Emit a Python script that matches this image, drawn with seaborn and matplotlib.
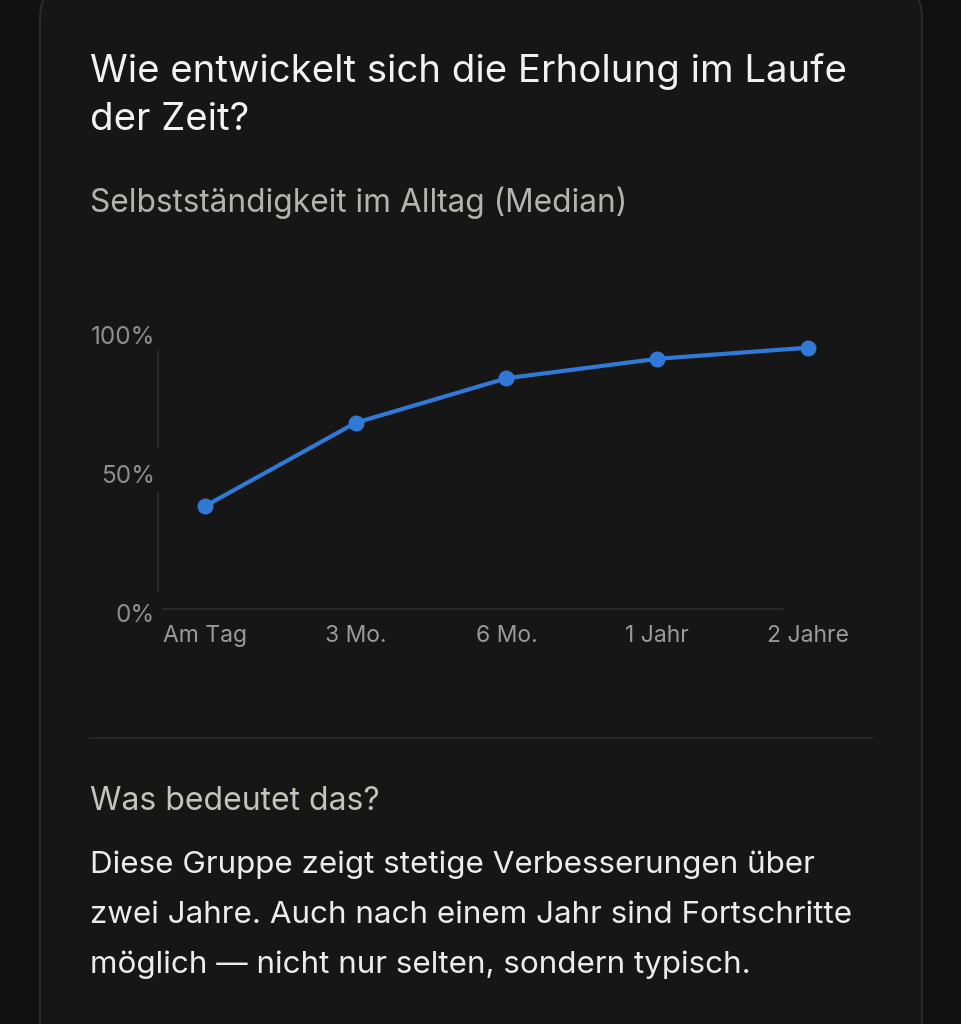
import pandas as pd
import seaborn as sns
import matplotlib.pyplot as plt
import matplotlib.transforms as mtransforms
from matplotlib.patches import FancyBboxPatch

# Data
zeitpunkte = ["Am Tag", "3 Mo.", "6 Mo.", "1 Jahr", "2 Jahre"]
median_pct = [37, 67, 83, 90, 94]
y_ticks = [0, 50, 100]
y_tick_labels = ["0%", "50%", "100%"]

title_lines = ["Wie entwickelt sich die Erholung im Laufe", "der Zeit?"]
subtitle = "Selbstständigkeit im Alltag (Median)"
note_head = "Was bedeutet das?"
note_lines = ["Diese Gruppe zeigt stetige Verbesserungen über",
              "zwei Jahre. Auch nach einem Jahr sind Fortschritte",
              "möglich — nicht nur selten, sondern typisch."]

BG = "#111111"
CARD = "#161616"
BORDER = "#2a2a2a"
BLUE = "#3079d6"

sns.set_theme(style="dark")
plt.rcParams["font.family"] = ["Inter", "DejaVu Sans"]

W, H = 962, 1024
fig = plt.figure(figsize=(W / 100, H / 100), dpi=100)
fig.patch.set_facecolor(BG)

# card behind everything (top and bottom run past the frame)
card = FancyBboxPatch((40 / W, -40 / H), 882 / W, 1080 / H,
                      boxstyle="round,pad=0,rounding_size=0.035",
                      transform=fig.transFigure, facecolor=CARD,
                      edgecolor=BORDER, linewidth=1.5, zorder=-5,
                      mutation_aspect=W / H)
fig.patches.append(card)


def line_text(y_px, s, size, color):
    fig.text(90 / W, 1 - y_px / H, s, fontsize=size, color=color,
             va="baseline", ha="left")


for i, s in enumerate(title_lines):
    line_text(82 + 48 * i, s, 27.6, "#f2f2f2")
line_text(212, subtitle, 22.8, "#b4b4ae")
line_text(810, note_head, 23, "#c4c4bc")
for i, s in enumerate(note_lines):
    line_text(873 + 50 * i, s, 22.6, "#ececec")

# separator line
fig.add_artist(plt.Line2D([90 / W, 872 / W], [1 - 738 / H, 1 - 738 / H],
                          transform=fig.transFigure, color="#262626", lw=1.5))

# chart axes: x index 0 at px 205, step 150.75 px; y 0 at px 609, 2.78 px per %
step = 150.75
x_left, x_right = -0.312, 4.25
y_low, y_high = -3, 105
ppu = 2.78
ax_l = 205 + x_left * step
ax_r = 205 + x_right * step
ax_b = 609 - y_low * ppu
ax_t = 609 - y_high * ppu
ax = fig.add_axes([ax_l / W, 1 - ax_b / H, (ax_r - ax_l) / W, (ax_b - ax_t) / H])
ax.set_facecolor("none")
ax.set_zorder(3)

df = pd.DataFrame({"pos": range(len(zeitpunkte)), "median": median_pct})
sns.lineplot(data=df, x="pos", y="median", ax=ax, color=BLUE, linewidth=3,
             marker="o", markersize=11.5, markeredgewidth=0, clip_on=False)

ax.set_xlim(x_left, x_right)
ax.set_ylim(y_low, y_high)
ax.set_xticks(range(len(zeitpunkte)))
ax.set_xticklabels(zeitpunkte)
ax.set_yticks(y_ticks)
ax.set_yticklabels(y_tick_labels)
ax.tick_params(axis="x", colors="#9a9a9a", labelsize=16.5, length=0, pad=5.5)
ax.tick_params(axis="y", colors="#8e8e8e", labelsize=17.5, length=0, pad=2)
ax.set_xlabel("")
ax.set_ylabel("")
for s in ax.spines.values():
    s.set_visible(False)
ax.grid(False)

# y labels sit a few px below their value in the reference
shift = mtransforms.ScaledTranslation(0, -0.04, fig.dpi_scale_trans)
for lbl in ax.get_yticklabels():
    lbl.set_transform(lbl.get_transform() + shift)

# faint axis lines (left one broken around the 50% label)
ax.vlines([x_left, x_left], [6, 58], [42, 93], color="#2e2e2e", lw=1.2,
          clip_on=False)
ax.hlines(0, -0.285, 3.834, color="#2e2e2e", lw=1.2)

fig.savefig("out.png", dpi=100, facecolor=BG)
